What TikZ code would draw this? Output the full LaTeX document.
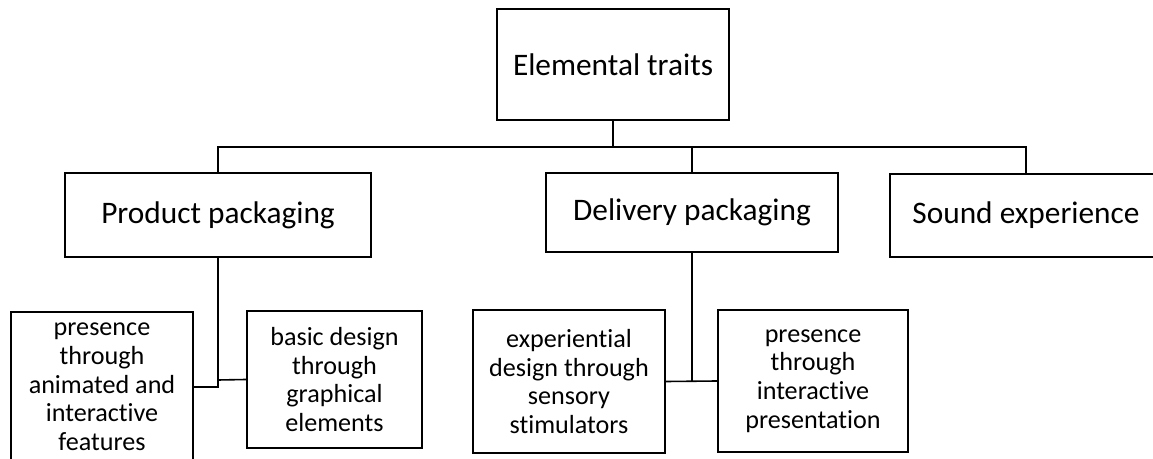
\documentclass[tikz,border=0pt]{standalone}
\usepackage{fontspec}
\setmainfont{Carlito}[Ligatures=NoCommon]

\begin{document}
\begin{tikzpicture}[x=0.75pt,y=0.75pt,yscale=-1,xscale=1,
  traitbox/.style={draw, line width=1.6pt, rectangle, inner sep=0pt, align=center, font=\fontsize{23.5}{28}\selectfont},
  leafbox/.style={draw, line width=1.6pt, rectangle, inner sep=0pt, align=center, font=\fontsize{19.6}{21.5}\selectfont},
  link/.style={line width=1.2pt}]
\useasboundingbox (0,0) rectangle (1153,459);

%Shape: Rectangle top
\node [traitbox, minimum width=174pt, minimum height=83.25pt] (traits) at (613,64.5) {Elemental traits};
%Shape: Rectangle second row
\node [traitbox, minimum width=229.5pt, minimum height=63pt] (prod) at (218,215) {Product packaging};
\node [traitbox, minimum width=219pt, minimum height=59.25pt] (deliv) at (692,212.5) {Delivery packaging};
\node [traitbox, minimum width=204pt, minimum height=62.25pt] (sound) at (1026,215.5) {Sound experience};
%Shape: Rectangle leaves
\node [leafbox, minimum width=136.5pt, minimum height=112.5pt] (anim) at (102,387) {presence\\through\\animated and\\interactive\\features};
\node [leafbox, minimum width=131.25pt, minimum height=102.75pt] (basic) at (334.5,379.5) {basic design\\through\\graphical\\elements};
\node [leafbox, minimum width=144pt, minimum height=107.25pt] (exper) at (569,381.5) {experiential\\design through\\sensory\\stimulators};
\node [leafbox, minimum width=142.5pt, minimum height=106.5pt] (inter) at (813,381) {presence\\through\\interactive\\presentation};

%Straight Lines
\coordinate (bus) at (613,147);
\coordinate (pj) at (218,380);
\coordinate (dj) at (692,381.5);
\draw [link] (traits.south) -- (bus);
\draw [link] (prod.north) |- (bus) -| (sound.north);
\draw [link] (deliv.north) -- (deliv.north |- bus);
\draw [link] (prod.south) -- (pj);
\draw [link] (anim.east) -| (pj) -- (basic.west);
\draw [link] (deliv.south) -- (dj);
\draw [link] (exper.east) -- (inter.west);

\end{tikzpicture}
\end{document}
